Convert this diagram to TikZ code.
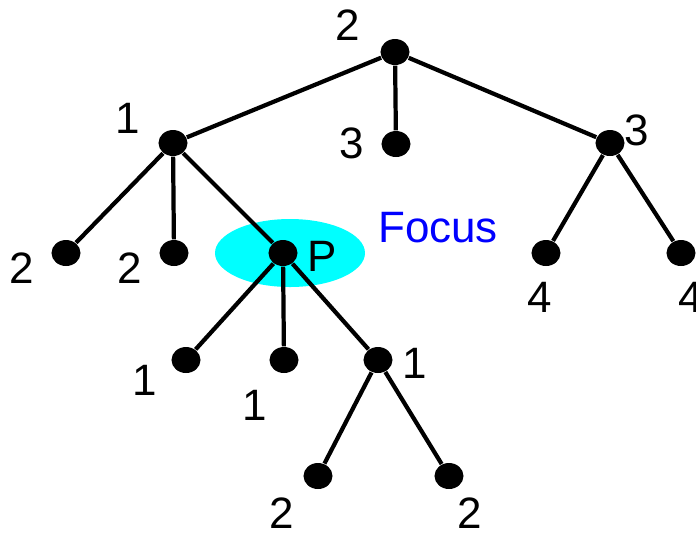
\documentclass[tikz,border=0pt]{standalone}
\usepackage{fontspec}
\setmainfont{Liberation Sans}
\usepackage{tikz}
\usetikzlibrary{shapes.geometric}

\definecolor{focuscyan}{RGB}{0,255,255}

\begin{document}
\begin{tikzpicture}[x=0.01cm,y=-0.01cm,
    dot/.style={fill,ellipse,minimum width=0.29cm,minimum height=0.26cm,inner sep=0pt},
    edge/.style={line width=1.2pt},
    lbl/.style={font=\fontsize{12.5}{14}\selectfont,inner sep=0pt}]
            \useasboundingbox (0,0) rectangle (696,535);

            % focus region round P
            \fill[focuscyan] (290,253) ellipse [x radius=75,y radius=34];

            \node[dot] (r)  at (395, 52) {};
            \node[dot] (a)  at (173,143) {};
            \node[dot] (b)  at (396,144) {};
            \node[dot] (c)  at (610,143) {};
            \node[dot] (a1) at ( 66,253) {};
            \node[dot] (a2) at (174,253) {};
            \node[dot] (p)  at (283,253) {};
            \node[dot] (c1) at (546,253) {};
            \node[dot] (c2) at (681,253) {};
            \node[dot] (p1) at (186,360) {};
            \node[dot] (p2) at (284,360) {};
            \node[dot] (p3) at (378,360) {};
            \node[dot] (q1) at (318,476) {};
            \node[dot] (q2) at (449,476) {};

            \draw[edge] (r) -- (a);
            \draw[edge] (r) -- (b);
            \draw[edge] (r) -- (c);
            \draw[edge] (a) -- (a1);
            \draw[edge] (a) -- (a2);
            \draw[edge] (a) -- (p);
            \draw[edge] (c) -- (c1);
            \draw[edge] (c) -- (c2);
            \draw[edge] (p) -- (p1);
            \draw[edge] (p) -- (p2);
            \draw[edge] (p) -- (p3);
            \draw[edge] (p3) -- (q1);
            \draw[edge] (p3) -- (q2);

            \node[lbl] (lr)  at (348, 25) {2};
            \node[lbl] (la)  at (128,118) {1};
            \node[lbl] (lb)  at (352,143) {3};
            \node[lbl] (lc)  at (637,130) {3};
            \node[lbl] (la1) at ( 22,268) {2};
            \node[lbl] (la2) at (130,268) {2};
            \node[lbl] (lp)  at (322,256) {P};
            \node[lbl,blue] (focus) at (438,228) {Focus};
            \node[lbl] (lc1) at (540,297) {4};
            \node[lbl] (lc2) at (691,297) {4};
            \node[lbl] (lp1) at (145,380) {1};
            \node[lbl] (lp2) at (255,405) {1};
            \node[lbl] (lp3) at (415,363) {1};
            \node[lbl] (lq1) at (282,513) {2};
            \node[lbl] (lq2) at (470,513) {2};
        \end{tikzpicture}
\end{document}
